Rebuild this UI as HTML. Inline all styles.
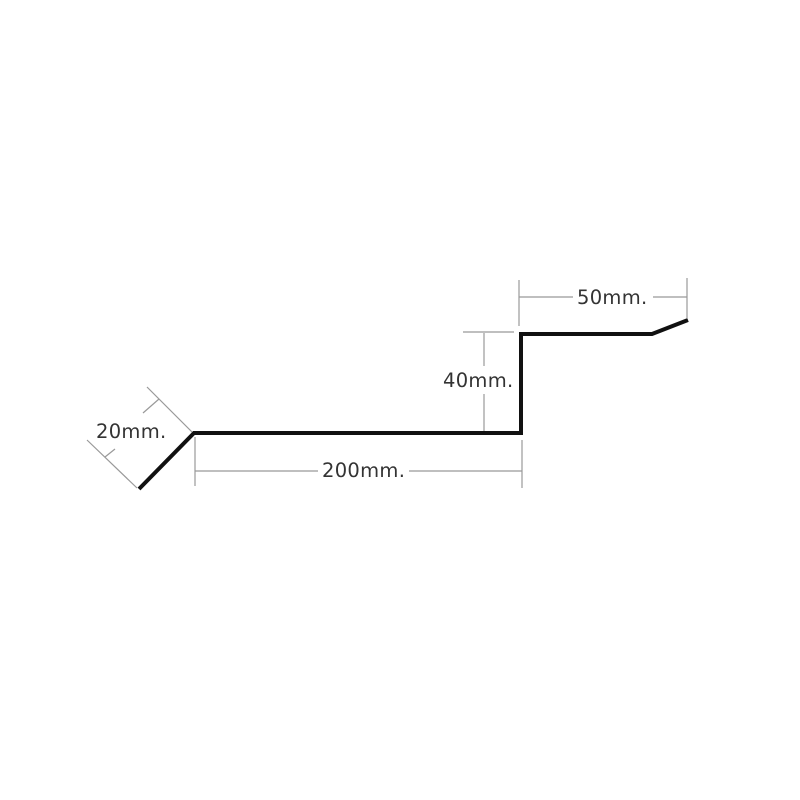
<!DOCTYPE html>
<html><head><meta charset="utf-8"><style>
html,body{margin:0;padding:0;background:#fff;}
svg{display:block;}
text{font-family:"DejaVu Sans","Liberation Sans",sans-serif;font-size:19.5px;fill:#333;letter-spacing:0.3px;}
</style></head><body>
<svg width="800" height="800" viewBox="0 0 800 800" xmlns="http://www.w3.org/2000/svg">
<g stroke="#999" stroke-width="1.2" fill="none">
  <!-- 200mm -->
  <line x1="195" y1="437" x2="195" y2="486"/>
  <line x1="522" y1="440" x2="522" y2="488"/>
  <line x1="195" y1="471" x2="318" y2="471"/>
  <line x1="409" y1="471" x2="522" y2="471"/>
  <!-- 40mm -->
  <line x1="463" y1="332" x2="514" y2="332"/>
  <line x1="484" y1="333" x2="484" y2="366"/>
  <line x1="484" y1="394" x2="484" y2="433"/>
  <!-- 50mm -->
  <line x1="519" y1="280" x2="519" y2="326"/>
  <line x1="687" y1="278" x2="687" y2="318"/>
  <line x1="519" y1="297" x2="573" y2="297"/>
  <line x1="653" y1="297" x2="687" y2="297"/>
  <!-- 20mm -->
  <line x1="192" y1="432" x2="147" y2="387"/>
  <line x1="137" y1="488" x2="87" y2="440"/>
  <line x1="159" y1="399" x2="143" y2="413"/>
  <line x1="115" y1="449" x2="105" y2="457"/>
</g>
<polyline points="139,489 194,433 521,433 521,334 652,334 688,320" fill="none" stroke="#111" stroke-width="4" stroke-linejoin="miter"/>
<text x="322" y="477">200mm.</text>
<text x="443" y="387">40mm.</text>
<text x="577" y="304">50mm.</text>
<text x="96" y="438">20mm.</text>
</svg>
</body></html>
